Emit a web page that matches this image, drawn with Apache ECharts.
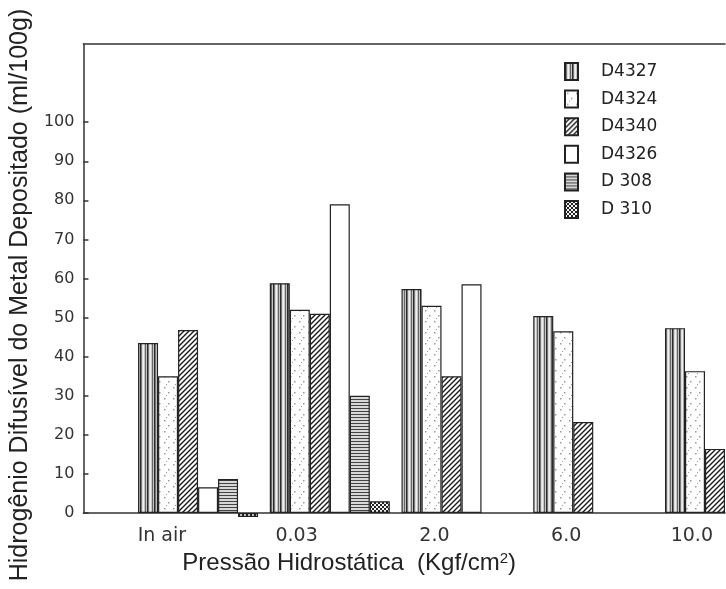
<!DOCTYPE html>
<html>
<head>
<meta charset="utf-8">
<script src="https://cdn.jsdelivr.net/npm/echarts@6/dist/echarts.min.js"></script>
<style>
  html, body { margin: 0; background: #fff; }
  #chart { width: 726px; height: 589px; }
</style>
</head>
<body>
<div id="chart"></div>
<script>
  // categorias de pressão
  const categories = ['In air', '0.03', '2.0', '6.0', '10.0']
  const seriesNames = ['D4327', 'D4324', 'D4340', 'D4326', 'D 308', 'D 310']
  // hidrogênio difusível (ml/100g) por eletrodo
  const d4327 = [43.5, 58.8, 57.3, 50.4, 47.3]
  const d4324 = [35, 52, 53, 46.5, 36.3]
  const d4340 = [46.8, 51, 35, 23.3, 16.4]
  const d4326 = [6.6, 79, 58.5, null, null]
  const d308 = [8.7, 30, null, null, null]
  const d310 = [-1, 3, null, null, null]
  const yTicks = [0, 10, 20, 30, 40, 50, 60, 70, 80, 90, 100]

  const values = [d4327, d4324, d4340, d4326, d308, d310]

  // texturas das barras
  let pattern = (w, h, draw) => {
    const c = document.createElement('canvas')
    c.width = w
    c.height = h
    const ctx = c.getContext('2d')
    draw(ctx, w, h)
    return { image: c, repeat: 'repeat' }
  }

  const fills = [
    pattern(7, 4, (ctx, w, h) => {
      ctx.fillStyle = '#c4c4c4'; ctx.fillRect(0, 0, w, h)
      ctx.fillStyle = '#2a2a2a'; ctx.fillRect(0, 0, 1.5, h)
      ctx.fillStyle = '#f0f0f0'; ctx.fillRect(2.5, 0, 1.5, h)
      ctx.fillStyle = '#666'; ctx.fillRect(5, 0, 1, h)
    }),
    pattern(9, 11, (ctx, w, h) => {
      ctx.fillStyle = '#fff'; ctx.fillRect(0, 0, w, h)
      ctx.fillStyle = '#9a9a9a'
      ctx.fillRect(2, 2, 1.5, 1.5)
      ctx.fillRect(6, 7, 1.5, 1.5)
      ctx.fillRect(4, 10, 1, 1)
    }),
    pattern(5, 5, (ctx, w, h) => {
      ctx.fillStyle = '#fff'; ctx.fillRect(0, 0, w, h)
      ctx.strokeStyle = '#1a1a1a'; ctx.lineWidth = 1.4
      ctx.beginPath()
      ctx.moveTo(0, h); ctx.lineTo(w, 0)
      ctx.moveTo(-1, 1); ctx.lineTo(1, -1)
      ctx.moveTo(w - 1, h + 1); ctx.lineTo(w + 1, h - 1)
      ctx.stroke()
    }),
    '#fff',
    pattern(4, 3, (ctx, w, h) => {
      ctx.fillStyle = '#d8d8d8'; ctx.fillRect(0, 0, w, h)
      ctx.fillStyle = '#444'; ctx.fillRect(0, 0, w, 1)
    }),
    pattern(4, 4, (ctx, w, h) => {
      ctx.fillStyle = '#f4f4f4'; ctx.fillRect(0, 0, w, h)
      ctx.fillStyle = '#222'
      ctx.fillRect(0, 0, 2, 2)
      ctx.fillRect(2, 2, 2, 2)
    })
  ]

  const axisColor = '#333'
  const labelFont = 'DejaVu Sans'

  let chart = echarts.init(document.getElementById('chart'))

  const option = {
    animation: false,
    backgroundColor: '#fff',
    grid: {
      left: 82,
      right: 1,
      top: 44,
      bottom: 76
    },
    legend: {
      data: seriesNames,
      orient: 'vertical',
      left: 559,
      top: 57,
      itemWidth: 13,
      itemHeight: 17,
      itemGap: 8.6,
      icon: 'rect',
      textStyle: {
        fontFamily: labelFont,
        fontSize: 17,
        color: '#222',
        padding: [0, 0, 0, 18]
      }
    },
    xAxis: [
      {
        type: 'value',
        min: -0.87,
        max: 4.0,
        name: 'Pressão Hidrostática  (Kgf/cm{sup|2})',
        nameLocation: 'middle',
        nameGap: 23,
        nameTextStyle: {
          fontFamily: 'Liberation Sans',
          fontSize: 24,
          color: '#222',
          padding: [0, 110, 0, 0],
          rich: {
            sup: { fontFamily: 'Liberation Sans', fontSize: 15, color: '#222', verticalAlign: 'top' }
          }
        },
        axisLine: { show: true, onZero: false, lineStyle: { color: axisColor, width: 1.5 } },
        axisTick: { show: false },
        splitLine: { show: false },
        axisLabel: {
          customValues: categories.map((c, i) => i),
          formatter: (v) => categories[Math.round(v)],
          align: 'right',
          padding: [0, 12, 0, 0],
          margin: 14,
          fontFamily: labelFont,
          fontSize: 19,
          color: '#333'
        }
      },
      {
        type: 'value',
        position: 'top',
        min: -0.87,
        max: 4.0,
        axisLine: { show: true, onZero: false, lineStyle: { color: axisColor, width: 1.5 } },
        axisTick: { show: false },
        axisLabel: { show: false },
        splitLine: { show: false }
      }
    ],
    yAxis: {
      type: 'value',
      min: 0,
      max: 120,
      interval: 10,
      name: 'Hidrogênio Difusível do Metal Depositado (ml/100g)',
      nameLocation: 'middle',
      nameGap: 45,
      nameTextStyle: {
        fontFamily: 'Liberation Sans',
        fontSize: 25,
        color: '#222',
        padding: [0, 33, 0, 0]
      },
      axisLine: { show: true, onZero: false, lineStyle: { color: axisColor, width: 1.5 } },
      axisTick: {
        show: true,
        inside: true,
        length: 5,
        customValues: yTicks,
        lineStyle: { color: axisColor, width: 1.5 }
      },
      splitLine: { show: false },
      axisLabel: {
        customValues: yTicks,
        margin: 9,
        fontFamily: labelFont,
        fontSize: 16,
        color: '#333'
      }
    },
    series: seriesNames.map((name, k) => ({
      name: name,
      type: 'bar',
      xAxisIndex: 0,
      barWidth: 20,
      barGap: '0%',
      clip: false,
      emphasis: { disabled: true },
      data: values[k].map((v, i) => (v == null ? null : [i, v])).filter((d) => d),
      itemStyle: {
        color: fills[k],
        borderColor: '#222',
        borderWidth: 1.2
      }
    }))
  }

  // 绘制图表
  chart.setOption(option)
  window.onresize = () => {
    chart.resize()
  }
</script>
</body>
</html>
